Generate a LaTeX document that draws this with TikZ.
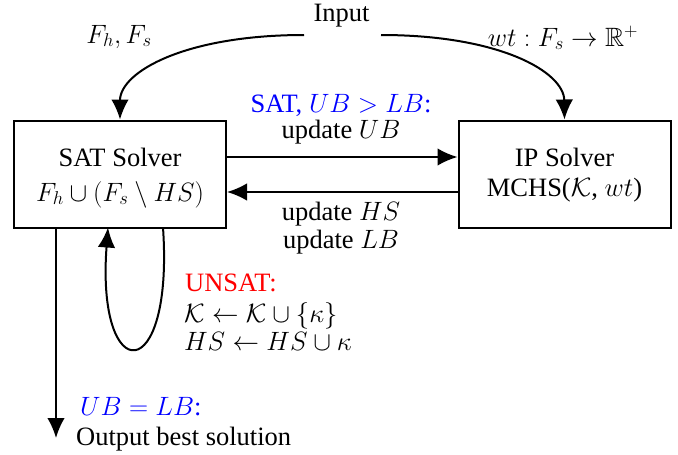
\documentclass[tikz,border=0pt]{standalone}
\usepackage{fix-cm}
\usepackage{amssymb}
\usepackage{fontspec}
\setmainfont{Liberation Serif}
\usetikzlibrary{arrows.meta}
\tikzset{
  every node/.style={font=\fontsize{26.5}{32}\selectfont, inner sep=0pt},
  solver/.style={draw, line width=2pt, minimum width=212pt, minimum height=107pt},
  conn/.style={line width=2pt, -{Latex[length=20pt,width=17.5pt]}},
  txt/.style={anchor=base},
  lbl/.style={anchor=base west}
}
\begin{document}
\begin{tikzpicture}[x=1pt,y=-1pt]
\useasboundingbox (0,0) rectangle (678,455);
\node[txt] (input) at (341.5,21) {Input};
\coordinate (inL) at (304,35);
\coordinate (inR) at (381,35);
\node[solver] (sat) at (120,174) {};
\node[solver] (ip) at (564.5,174) {};
\node[txt] (satA) at (120,166) {SAT Solver};
\node[txt] (satB) at (120,201) {$F_h\cup(F_s\setminus HS)$};
\node[txt] (ipA) at (564.5,166) {IP Solver};
\node[txt] (ipB) at (564.5,196) {MCHS($\mathcal{K}$, $wt$)};
\node[txt] (fhfs) at (119,43) {$F_h, F_s$};
\node[txt] (wt) at (563,46) {$wt: F_s\rightarrow\mathbb{R}^{+}$};
\draw[conn] (inL) .. controls (185,35) and (120,72) .. (sat.north);
\draw[conn] (inR) .. controls (500,35) and (564,72) .. (ip.north);
\draw[conn] (sat.east |- 0,157) -- (ip.west |- 0,157);
\draw[conn] (ip.west |- 0,192) -- (sat.east |- 0,192);
\node[txt] (satlbl) at (341,112) {\color{blue}SAT, $UB>LB$:};
\node[txt] (upub) at (341,138) {update $UB$};
\node[txt] (uphs) at (341,220) {update $HS$};
\node[txt] (uplb) at (341,248) {update $LB$};
\coordinate (loopA) at (163,227.5);
\coordinate (loopB) at (108,227.5);
\draw[conn] (loopA) .. controls (174,388) and (96,388) .. (loopB);
\node[lbl] (unsat) at (185,291) {\color{red}UNSAT:};
\node[lbl] (kk) at (184,322) {$\mathcal{K}\leftarrow\mathcal{K}\cup\{\kappa\}$};
\node[lbl] (hshs) at (184,350) {$HS\leftarrow HS\cup\kappa$};
\coordinate (outend) at (56,438);
\draw[conn] (sat.south -| outend) -- (outend);
\node[lbl] (ublb) at (80,415) {\color{blue}$UB=LB$:};
\node[lbl] (outtxt) at (76,445) {Output best solution};
\end{tikzpicture}
\end{document}
